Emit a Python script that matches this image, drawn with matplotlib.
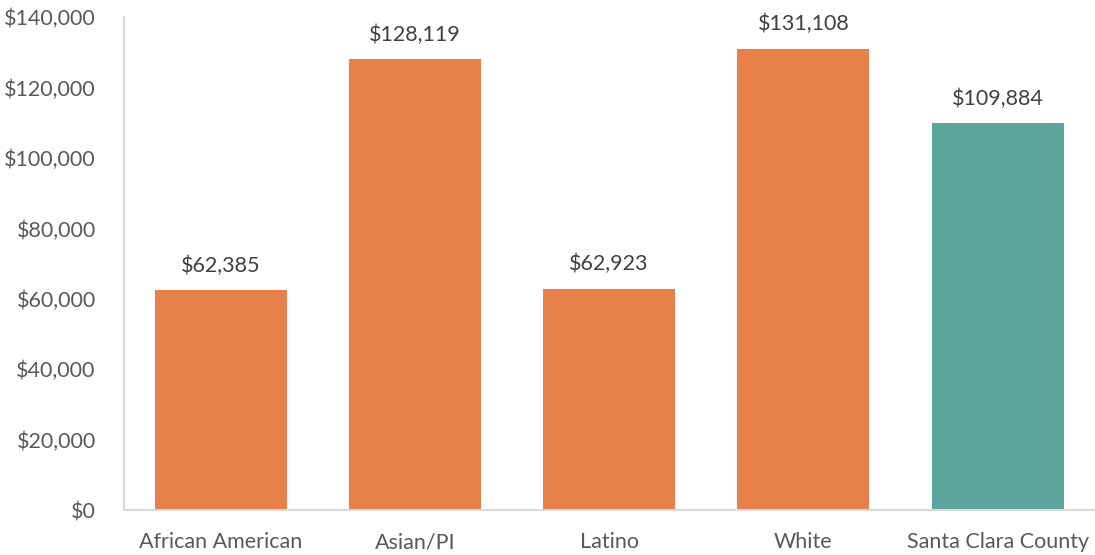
import numpy as np
import matplotlib.pyplot as plt
from matplotlib.ticker import FuncFormatter

categories = ['African American', 'Asian/PI', 'Latino', 'White', 'Santa Clara County']
income     = [62385, 128119, 62923, 131108, 109884]
bar_colors = ['#E8804A', '#E8804A', '#E8804A', '#E8804A', '#5BA59C']

plt.rcParams['font.family'] = ['Lato', 'DejaVu Sans']

fig = plt.figure(figsize=(10.95, 5.55), dpi=100)
ax = fig.add_axes([0.1128, 0.081, 0.887, 0.888])

x = np.arange(len(categories))
bars = ax.bar(x, income, width=0.68, color=bar_colors)

## etiquetas sobre las barras
for xi, v in zip(x, income):
    ax.text(xi, v + 4000, '${:,.0f}'.format(v), ha='center', va='bottom',
            fontsize=15.5, color='#404040')

ax.set_xlim(-0.5, len(categories) - 0.5)
ax.set_ylim(0, 140000)
ax.set_yticks(np.arange(0, 140001, 20000))
ax.yaxis.set_major_formatter(FuncFormatter(lambda v, p: '${:,.0f}'.format(v)))
ax.set_xticks(x)
ax.set_xticklabels(categories)
ax.tick_params(axis='both', length=0, labelsize=15.5, colors='#595959')
ax.tick_params(axis='x', pad=16)
ax.tick_params(axis='y', pad=20)

for s in ['top', 'right']:
    ax.spines[s].set_visible(False)
for s in ['left', 'bottom']:
    ax.spines[s].set_color('#D9D9D9')
    ax.spines[s].set_linewidth(1.5)

fig.savefig('out.png', dpi=100)
